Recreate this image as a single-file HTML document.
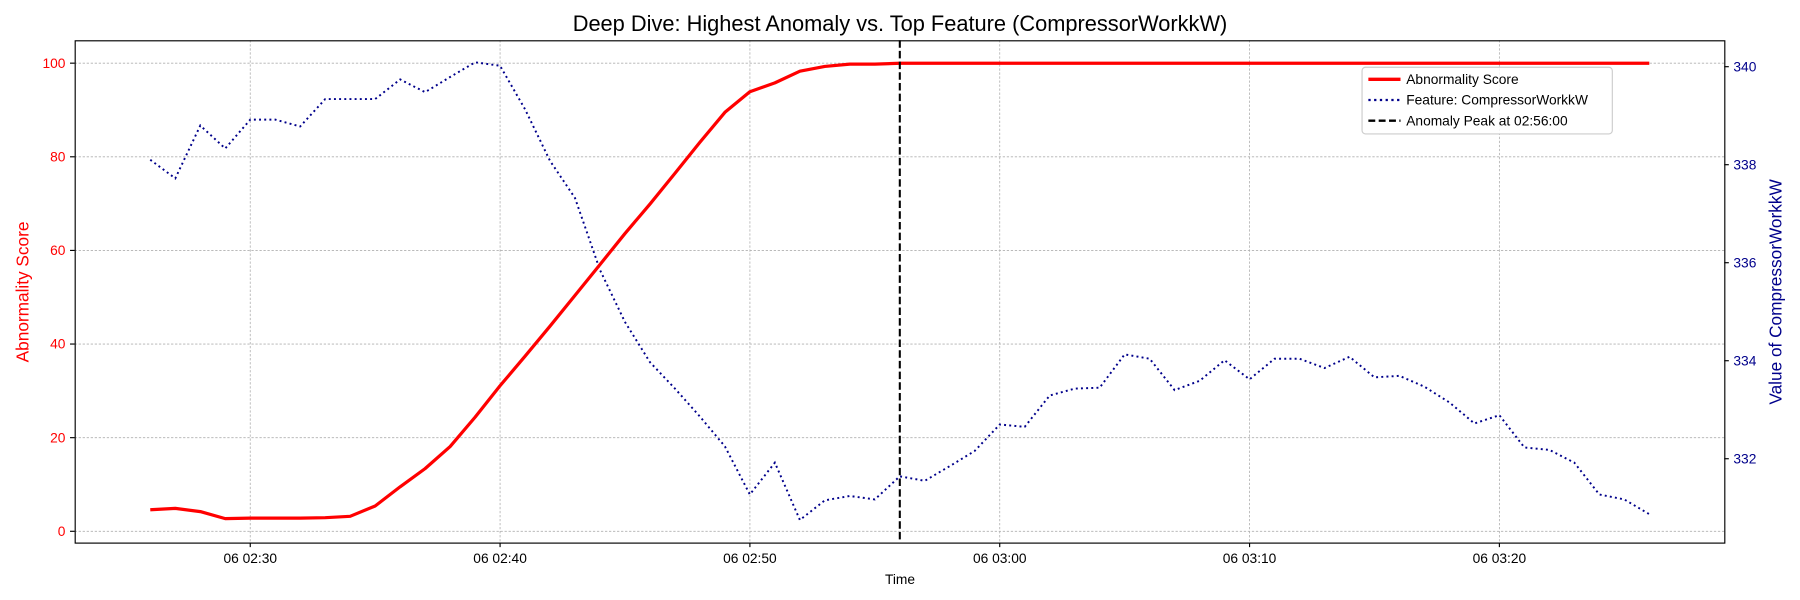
<!DOCTYPE html>
<html><head><meta charset="utf-8"><style>
body{margin:0;background:#fff;}
svg{display:block;font-family:"Liberation Sans","DejaVu Sans",sans-serif;}
</style></head><body>
<svg id="chart" width="1800" height="600" viewBox="0 0 1568 522" preserveAspectRatio="none">
<text x="784" y="27" font-size="19" text-anchor="middle">Deep Dive: Highest Anomaly vs. Top Feature (CompressorWorkkW)</text>
<g id="grid"></g>
<g id="series"></g>
<rect x="65.5" y="35.5" width="1437" height="437" fill="none" stroke="#000" stroke-width="1"/>
<g id="axes"></g>
<text x="784" y="508" font-size="12" text-anchor="middle">Time</text>
<text transform="translate(25,254) rotate(-90)" font-size="15" fill="red" text-anchor="middle">Abnormality Score</text>
<text transform="translate(1552,254) rotate(-90)" font-size="15" fill="#00008b" text-anchor="middle">Value of CompressorWorkkW</text>
<g>
<rect x="1186.5" y="58.5" width="218" height="58" rx="3" fill="#fff" fill-opacity="0.85" stroke="#ccc"/>
<g><line x1="1192" y1="69" x2="1220" y2="69" stroke="red" stroke-width="3"/><text x="1225" y="73" font-size="12">Abnormality Score</text></g>
<g><line x1="1192" y1="87" x2="1220" y2="87" stroke="#00008b" stroke-width="2" stroke-dasharray="2,3"/><text x="1225" y="91" font-size="12">Feature: CompressorWorkkW</text></g>
<g><line x1="1192" y1="105" x2="1220" y2="105" stroke="#000" stroke-width="2" stroke-dasharray="6,3"/><text x="1225" y="109" font-size="12">Anomaly Peak at 02:56:00</text></g>
</g>
</svg>
<script>
const scores=[4.6,4.9,4.2,2.7,2.8,2.8,2.8,2.9,3.2,5.4,9.5,13.4,18.1,24.4,31.1,37.4,43.8,50.4,57.0,63.6,69.9,76.5,83.1,89.5,93.9,95.8,98.3,99.3,99.8,99.8,100,100,100,100,100,100,100,100,100,100,100,100,100,100,100,100,100,100,100,100,100,100,100,100,100,100,100,100,100,100,100];
const feature=[338.10,337.72,338.80,338.33,338.92,338.92,338.78,339.34,339.34,339.34,339.74,339.48,339.79,340.09,340.02,339.13,338.08,337.32,335.85,334.79,333.97,333.43,332.86,332.25,331.27,331.92,330.75,331.15,331.24,331.17,331.64,331.55,331.85,332.16,332.70,332.65,333.29,333.43,333.45,334.13,334.04,333.40,333.59,334.01,333.62,334.04,334.04,333.85,334.08,333.66,333.69,333.47,333.15,332.72,332.89,332.23,332.18,331.92,331.27,331.17,330.87];
const startMinute=146; // 02:26
const peakMinute=176;  // 02:56
const xTicks=[150,160,170,180,190,200];
const xTickLabels=["06 02:30","06 02:40","06 02:50","06 03:00","06 03:10","06 03:20"];
const leftTicks=[0,20,40,60,80,100];
const rightTicks=[332,334,336,338,340];
const NS="http://www.w3.org/2000/svg";
const L=65,R=1502,T=35,B=472;
const xMin=142.97,xMax=209.0;
const sMin=-2.4,sMax=104.9;
const fMin=330.29,fMax=340.54;
const X=m=>L+(m-xMin)/(xMax-xMin)*(R-L);
const YS=v=>B-(v-sMin)/(sMax-sMin)*(B-T);
const YF=v=>B-(v-fMin)/(fMax-fMin)*(B-T);
function mk(tag,attrs,parent){const e=document.createElementNS(NS,tag);for(const k in attrs)e.setAttribute(k,attrs[k]);parent.appendChild(e);return e;}
const grid=document.getElementById('grid'),axes=document.getElementById('axes'),series=document.getElementById('series');
xTicks.forEach((m,i)=>{
  const x=X(m);
  const g=mk('line',{x1:x,x2:x,y1:T,y2:B,stroke:'#b0b0b0','stroke-width':0.7,'stroke-dasharray':'2,1.5'},grid);
  
  
  mk('line',{x1:x,x2:x,y1:B,y2:B+4,stroke:'#000'},axes);
  const t=mk('text',{x:x,y:B+18,'font-size':12,'text-anchor':'middle'},axes);
  t.textContent=xTickLabels[i];
  
  
});
leftTicks.forEach(v=>{
  const y=YS(v);
  const g=mk('line',{x1:L,x2:R,y1:y,y2:y,stroke:'#b0b0b0','stroke-width':0.7,'stroke-dasharray':'2,1.5'},grid);
  
  
  mk('line',{x1:L-4,x2:L,y1:y,y2:y,stroke:'#000'},axes);
  const t=mk('text',{x:L-8,y:y+4,'font-size':12,'text-anchor':'end',fill:'red'},axes);
  t.textContent=v;
  
  
});
rightTicks.forEach(v=>{
  const y=YF(v);
  mk('line',{x1:R,x2:R+4,y1:y,y2:y,stroke:'#000'},axes);
  const t=mk('text',{x:R+8,y:y+4,'font-size':12,fill:'#00008b'},axes);
  t.textContent=v;
  
  
});
const sp=scores.map((v,i)=>X(startMinute+i).toFixed(1)+','+YS(v).toFixed(1)).join(' ');
const fp=feature.map((v,i)=>X(startMinute+i).toFixed(1)+','+YF(v).toFixed(1)).join(' ');
const fl=mk('polyline',{points:fp,fill:'none',stroke:'#00008b','stroke-width':1.7,'stroke-dasharray':'1.7,2.8'},series);


const sl=mk('polyline',{points:sp,fill:'none',stroke:'red','stroke-width':2.8,'stroke-linejoin':'round'},series);


const px=X(peakMinute);
const pl=mk('line',{x1:px,x2:px,y1:T,y2:B,stroke:'#000','stroke-width':1.8,'stroke-dasharray':'6.5,2.8'},series);


</script>
</body></html>
